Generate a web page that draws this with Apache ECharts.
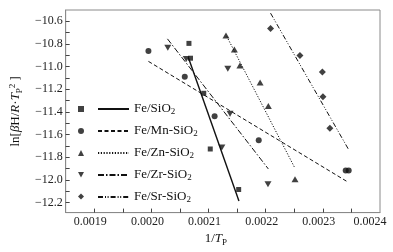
<!DOCTYPE html>
<html><head><meta charset="utf-8">
<script src="https://cdn.jsdelivr.net/npm/echarts@6/dist/echarts.min.js"></script>
<style>html,body{margin:0;padding:0;background:#fff}#c{width:393px;height:252px}</style>
</head><body><div id="c"></div>
<script>
// ---- data ----
const seriesNames = ['Fe/SiO2', 'Fe/Mn-SiO2', 'Fe/Zn-SiO2', 'Fe/Zr-SiO2', 'Fe/Sr-SiO2'];

const sio2Points = [[0.0020657, -10.795], [0.0020684, -10.926], [0.0020916, -11.236], [0.0021030, -11.728], [0.0021527, -12.086]];
const mnPoints   = [[0.0019948, -10.863], [0.0020584, -11.089], [0.0021106, -11.439], [0.0021878, -11.651], [0.0023400, -11.919], [0.0023452, -11.919]];
const znPoints   = [[0.0021305, -10.726], [0.0021452, -10.849], [0.0021549, -10.991], [0.0021902, -11.141], [0.0022046, -11.349], [0.0022513, -11.995]];
const zrPoints   = [[0.0020287, -10.834], [0.0020610, -10.934], [0.0021337, -11.019], [0.0021376, -11.417], [0.0021233, -11.714], [0.0022040, -12.040]];
const srPoints   = [[0.0022085, -10.664], [0.0022599, -10.903], [0.0022992, -11.047], [0.0023002, -11.266], [0.0023123, -11.544]];

// fitted lines (end points)
const sio2Fit = [[0.0020645, -10.917], [0.0021532, -12.188]];
const mnFit   = [[0.0019948, -10.954], [0.0023412, -12.012]];
const znFit   = [[0.0021319, -10.734], [0.0022501, -11.887]];
const zrFit   = [[0.0020281, -10.755], [0.0022046, -11.904]];
const srFit   = [[0.0022085, -10.528], [0.0023452, -11.734]];

const xTickValues  = [0.0019, 0.00195, 0.0020, 0.00205, 0.0021, 0.00215, 0.0022, 0.00225, 0.0023, 0.00235];
const xLabelValues = [0.0019, 0.0020, 0.0021, 0.0022, 0.0023, 0.0024];
const yTickValues  = [-12.2, -12.1, -12.0, -11.9, -11.8, -11.7, -11.6, -11.5, -11.4, -11.3, -11.2, -11.1, -11.0, -10.9, -10.8, -10.7, -10.6];
const yLabelValues = [-12.2, -12.0, -11.8, -11.6, -11.4, -11.2, -11.0, -10.8, -10.6];

// ---- chart ----
const FONT = '"Liberation Serif", "DejaVu Serif", serif';
const INK = '#111';
const pointSets = [sio2Points, mnPoints, znPoints, zrPoints, srPoints];
const fitSets = [sio2Fit, mnFit, znFit, zrFit, srFit];
const symbols = ['rect', 'circle', 'triangle', 'path://M0,0 L10,0 L5,9 Z', 'diamond'];
const symbolSizes = [5, 6, [7, 6], [7, 6], 7];
const lineTypes = ['solid', [4, 2.5], [1.2, 1.6], [6, 2, 1.5, 2], [5, 2, 1, 1.6, 1, 2]];
const lineWidths = [1.4, 1, 1, 1, 1];

const series = [];
seriesNames.forEach((n, i) => {
  series.push({
    name: n + ' data', type: 'scatter', data: pointSets[i],
    symbol: symbols[i], symbolSize: symbolSizes[i],
    itemStyle: { color: INK }, z: 3
  });
});
seriesNames.forEach((n, i) => {
  series.push({
    name: n, type: 'line', data: fitSets[i], symbol: 'none', color: INK,
    itemStyle: { color: INK },
    lineStyle: { color: INK, width: lineWidths[i], type: lineTypes[i] }, z: 2
  });
});

const sub = { fontSize: 9, fontFamily: FONT, color: INK, verticalAlign: 'bottom', lineHeight: 9 };
const sup = { fontSize: 9, fontFamily: FONT, color: INK, verticalAlign: 'top', lineHeight: 9 };

const chart = echarts.init(document.getElementById('c'), null, { renderer: 'canvas' });
chart.setOption({
  animation: false,
  backgroundColor: '#fff',
  grid: { left: 62, top: 10, width: 318, height: 210, show: true, borderColor: '#8a8a8a', borderWidth: 1, backgroundColor: 'transparent' },
  xAxis: {
    type: 'value', min: 0.00185, max: 0.0024,
    axisLine: { lineStyle: { color: '#8a8a8a', width: 1 } },
    axisTick: { inside: true, length: 4, lineStyle: { color: '#444' }, customValues: xTickValues },
    axisLabel: {
      customValues: xLabelValues, margin: 3, color: '#222', fontFamily: FONT, fontSize: 12,
      formatter: v => Math.abs(v - 0.0024) < 1e-9 ? '{r|0.0024}' : '{n|' + v.toFixed(4) + '}',
      rich: { n: { fontFamily: FONT, fontSize: 12, color: '#222', padding: [0, 8, 0, 0] },
              r: { fontFamily: FONT, fontSize: 12, color: '#222', padding: [0, 20, 0, 0] } }
    },
    splitLine: { show: false },
    name: '{n|1/}{i|T}{s|P}', nameLocation: 'middle', nameGap: 12,
    nameTextStyle: {
      padding: [0, 14, 0, 0],
      rich: { n: { fontFamily: FONT, fontSize: 13, color: INK, lineHeight: 16 },
              i: { fontFamily: FONT, fontSize: 13, fontStyle: 'italic', color: INK, lineHeight: 16 },
              s: sub }
    }
  },
  yAxis: {
    type: 'value', min: -12.29, max: -10.5,
    axisLine: { show: true, lineStyle: { color: '#8a8a8a', width: 1 } },
    axisTick: { show: true, inside: true, length: 4, lineStyle: { color: '#444' }, customValues: yTickValues },
    axisLabel: {
      customValues: yLabelValues, margin: 3, color: '#222', fontFamily: FONT, fontSize: 12,
      formatter: v => '\u2212' + Math.abs(v).toFixed(1)
    },
    splitLine: { show: false },
    name: '{n|ln[}{i|β}{n|H/}{i|R}{n|·}{i|T}{s|P}{p|2}{n| ]}', nameLocation: 'middle', nameGap: 31, nameRotate: 90,
    nameTextStyle: {
      rich: { n: { fontFamily: FONT, fontSize: 13, color: INK, lineHeight: 16 },
              i: { fontFamily: FONT, fontSize: 13, fontStyle: 'italic', color: INK, lineHeight: 16 },
              s: sub, p: sup }
    }
  },
  legend: [
    {
      data: seriesNames.map(n => n + ' data'), orient: 'vertical', left: 78, top: 106, padding: 0,
      itemWidth: 6, itemHeight: 6, itemGap: 16, formatter: () => '',
      textStyle: { fontSize: 1, lineHeight: 1 }, selectedMode: false
    },
    {
      data: seriesNames, orient: 'vertical', left: 97, top: 102, padding: 0,
      itemWidth: 31, itemHeight: 14, itemGap: 8, selectedMode: false,
      itemStyle: { opacity: 0 },
      formatter: n => '{a|' + n.slice(0, -1) + '}{s|2}',
      textStyle: {
        fontFamily: FONT, fontSize: 13, color: INK, lineHeight: 14,
        rich: { a: { fontFamily: FONT, fontSize: 13, color: INK, lineHeight: 14 },
                s: { fontSize: 9, fontFamily: FONT, color: INK, verticalAlign: 'bottom', lineHeight: 6 } }
      }
    }
  ],
  series: series
});
</script>
</body></html>
